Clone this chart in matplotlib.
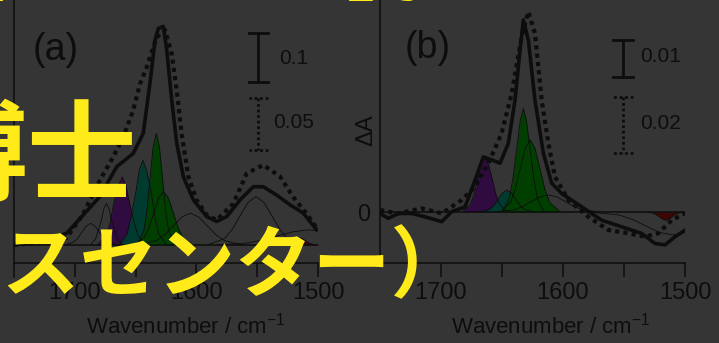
import numpy as np
import matplotlib
matplotlib.use('Agg')
from matplotlib import pyplot as plt

plt.rcParams['font.family'] = ['Liberation Sans', 'DejaVu Sans']
plt.rcParams['mathtext.fontset'] = 'custom'
plt.rcParams['mathtext.rm'] = 'Liberation Sans'
plt.rcParams['mathtext.it'] = 'Liberation Sans:italic'
plt.rcParams['mathtext.default'] = 'regular'

BG = '#353535'
INK = '#0d0d0d'
YELLOW = '#ffea1a'
PURPLE = '#300b40'
TEAL = '#003b30'
GREEN = '#003f00'
RED = '#3d0505'

# ---- panel (a) : measured spectra ----
wn_a = [1750.5, 1728.6, 1706.7, 1679.3, 1665.5, 1651.9, 1643.7, 1638.2, 1634.0, 1631.3,
        1627.2, 1624.4, 1620.3, 1616.2, 1610.7, 1602.5, 1591.5, 1583.3, 1575.1, 1564.1,
        1553.2, 1545.0, 1534.0, 1523.0, 1512.1, 1501.1]
solid_a = [0.0, 0.007, 0.024, 0.099, 0.160, 0.187, 0.228, 0.330, 0.418, 0.442,
           0.446, 0.398, 0.296, 0.208, 0.139, 0.092, 0.058, 0.048, 0.058, 0.092,
           0.119, 0.119, 0.102, 0.082, 0.065, 0.031]
wn_a_dot = [1750.5, 1720.4, 1706.7, 1693.0, 1679.3, 1668.3, 1660.1, 1651.9, 1646.4, 1640.9,
            1632.7, 1625.8, 1620.3, 1616.2, 1612.1, 1606.6, 1599.8, 1591.5, 1583.3, 1569.6,
            1558.6, 1545.0, 1531.3, 1520.3, 1509.3, 1499.8]
dotted_a = [0.000, 0.003, 0.007, 0.030, 0.0625, 0.085, 0.104, 0.130, 0.155, 0.171,
            0.200, 0.207, 0.184, 0.149, 0.107, 0.066, 0.043, 0.029, 0.024, 0.040,
            0.069, 0.077, 0.066, 0.046, 0.030, 0.014]

# ---- panel (a) : fitted bands ----
band_a_1687 = ([1708, 1701, 1697.5, 1694, 1690.5, 1687, 1683.5, 1680, 1676.5, 1673, 1666],
               [0.0005, 0.006, 0.014, 0.027, 0.039, 0.044, 0.039, 0.027, 0.014, 0.006, 0.0005])
band_a_1674 = ([1687, 1683, 1681, 1678, 1676, 1674, 1672, 1670, 1667, 1665, 1661],
               [0.001, 0.012, 0.027, 0.052, 0.075, 0.085, 0.075, 0.052, 0.027, 0.012, 0.001])
band_a_purple = ([1681, 1674, 1671, 1668, 1664, 1661, 1658, 1655, 1651, 1648, 1642],
                 [0.0015, 0.019, 0.044, 0.085, 0.122, 0.139, 0.122, 0.085, 0.044, 0.019, 0.0015])
band_a_teal = ([1663, 1657, 1654, 1650, 1647, 1644, 1641, 1637, 1634, 1631, 1625],
               [0.002, 0.023, 0.055, 0.105, 0.152, 0.173, 0.152, 0.105, 0.055, 0.023, 0.002])
band_a_green_broad = ([1651, 1643, 1639, 1635, 1631, 1627, 1623, 1619, 1615, 1611, 1603],
                      [0.001, 0.015, 0.035, 0.066, 0.096, 0.109, 0.096, 0.066, 0.035, 0.015, 0.001])
band_a_green = ([1648, 1643, 1640.5, 1638, 1635.5, 1633, 1630.5, 1628, 1625.5, 1623, 1618],
                [0.0025, 0.031, 0.074, 0.139, 0.201, 0.228, 0.201, 0.139, 0.074, 0.031, 0.0025])
band_a_1605 = ([1647, 1633, 1626, 1619, 1612, 1605, 1598, 1591, 1584, 1577, 1563],
               [0.0007, 0.009, 0.021, 0.039, 0.057, 0.065, 0.057, 0.039, 0.021, 0.009, 0.0007])
band_a_1551 = ([1590, 1577, 1570.5, 1564, 1557.5, 1551, 1544.5, 1538, 1531.5, 1525, 1512],
               [0.001, 0.013, 0.032, 0.060, 0.087, 0.099, 0.087, 0.060, 0.032, 0.013, 0.001])
band_a_1508 = ([1583, 1558, 1545.5, 1533, 1520.5, 1508, 1500],
               [0.0003, 0.004, 0.010, 0.019, 0.027, 0.031, 0.0295])
band_a_red = ([1535, 1529, 1526, 1523, 1520, 1517, 1514, 1511, 1508, 1505, 1499],
              [0.0002, 0.002, 0.005, 0.010, 0.014, 0.016, 0.014, 0.010, 0.005, 0.002, 0.0002])

# ---- panel (b) : measured spectra ----
wn_b = [1750, 1743.2, 1735, 1724, 1713.1, 1699.4, 1691.2, 1680.3, 1672.1, 1665.3,
        1658.5, 1651.6, 1644.8, 1639.3, 1635.2, 1632.5, 1628.4, 1623, 1616.1, 1609.3,
        1601.1, 1584.7, 1568.3, 1551.9, 1535.5, 1524.6, 1516.4, 1508.2, 1500]
solid_b = [-0.0004, -0.0017, -0.0004, -0.0004, -0.0013, -0.0026, 0.0001, 0.0014, 0.0086, 0.0149,
           0.0141, 0.0132, 0.0186, 0.0303, 0.0438, 0.0519, 0.0465, 0.0303, 0.0159, 0.0078,
           0.0050, 0.0014, -0.0022, -0.0040, -0.0058, -0.0085, -0.0089, -0.0067, -0.0049]
wn_b_dot = [1750, 1735, 1715.8, 1699.4, 1683, 1672.1, 1661.2, 1650.3, 1642, 1633.9,
            1628.4, 1623, 1617.5, 1612, 1606.6, 1595.6, 1579.3, 1562.9, 1546.5, 1532.8,
            1521.9, 1510.9, 1500]
dotted_b = [0.0007, -0.0005, 0.0013, -0.0005, 0.0043, 0.0090, 0.0174, 0.0281, 0.0424, 0.0626,
            0.0715, 0.0638, 0.0400, 0.0245, 0.0126, 0.0043, -0.0017, -0.0064, -0.0076, -0.0088,
            -0.0076, -0.0029, -0.0005]

# ---- panel (b) : fitted bands ----
band_b_purple = ([1682, 1676, 1673, 1670, 1667, 1664, 1661, 1658, 1655, 1652, 1646],
                 [0.0002, 0.002, 0.0047, 0.0088, 0.0128, 0.0145, 0.0128, 0.0088, 0.0047, 0.002, 0.0002])
band_b_teal = ([1667, 1660, 1656.5, 1653, 1649.5, 1646, 1642.5, 1639, 1635.5, 1632, 1625],
               [0.0001, 0.0008, 0.0019, 0.0036, 0.0052, 0.0059, 0.0052, 0.0036, 0.0019, 0.0008, 0.0001])
band_b_green_broad = ([1651, 1643, 1639, 1635, 1631, 1627, 1623, 1619, 1615, 1611, 1603],
                      [0.0002, 0.0026, 0.0063, 0.0118, 0.0172, 0.0195, 0.0172, 0.0118, 0.0063, 0.0026, 0.0002])
band_b_green = ([1649, 1644, 1641, 1638, 1635, 1632.5, 1630, 1627, 1624, 1621, 1616],
                [0.0003, 0.0038, 0.0091, 0.017, 0.0247, 0.028, 0.0247, 0.017, 0.0091, 0.0038, 0.0003])
band_b_1612 = ([1654, 1640, 1633, 1626, 1619, 1612, 1605, 1598, 1591, 1584, 1570],
               [0.00005, 0.0006, 0.0015, 0.0028, 0.0041, 0.0046, 0.0041, 0.0028, 0.0015, 0.0006, 0.00005])
band_b_1510 = ([1576, 1554, 1543, 1532, 1521, 1510, 1500],
               [-0.0001, -0.0008, -0.002, -0.0038, -0.0055, -0.0062, -0.0056])
band_b_red = ([1531, 1526, 1523.5, 1521, 1518.5, 1516, 1513.5, 1511, 1508.5, 1506, 1501],
              [-0.00002, -0.0003, -0.0007, -0.0013, -0.0019, -0.0022, -0.0019, -0.0013, -0.0007, -0.0003, -0.00002])

# scale bars: value shown for solid / dotted trace
bar_a = [0.1, 0.05]
bar_b = [0.01, 0.02]
# dotted traces are drawn on their own scale
dot_scale_a = 2.12
dot_scale_b = 0.757

W, H = 719, 343
fig = plt.figure(figsize=(W / 100, H / 100), dpi=100, facecolor=BG)
ax_a = fig.add_axes([14 / W, 80 / H, 304 / W, 263 / H])
ax_b = fig.add_axes([380 / W, 80 / H, 305 / W, 263 / H])


def style_axes(ax, ylim):
    ax.set_facecolor(BG)
    ax.set_xlim(1750, 1500)
    ax.set_ylim(*ylim)
    for s in ['top', 'right']:
        ax.spines[s].set_visible(False)
    for s in ['left', 'bottom']:
        ax.spines[s].set_color(INK)
        ax.spines[s].set_linewidth(1.1)
    ax.set_xticks([1700, 1600, 1500])
    ax.set_xticks([1650, 1550], minor=True)
    ax.tick_params(axis='x', which='both', direction='out', length=10, width=1.1,
                   color=INK, labelsize=17, labelcolor=INK, pad=4)
    ax.axhline(0, color=INK, lw=1.1, zorder=4)


def draw_band(ax, band, color=None):
    x, y = band
    if color is not None:
        ax.fill_between(x, y, 0, color=color, lw=0, zorder=2)
    ax.plot(x, y, color=INK, lw=0.6, zorder=3)


def draw_bar(ax, x, top, length, half, ls):
    ax.plot([x, x], [top, top - length], color=INK, lw=2, ls=ls, zorder=5)
    ax.plot([x - half, x + half], [top, top], color=INK, lw=2, ls=ls, zorder=5)
    ax.plot([x - half, x + half], [top - length, top - length], color=INK, lw=2, ls=ls, zorder=5)


# panel (a)
style_axes(ax_a, (-0.0367, 0.5))
ax_a.set_yticks([])
ax_a.spines['left'].set_bounds(-0.0653, 0.5)
for b in [band_a_1687, band_a_1674]:
    draw_band(ax_a, b)
draw_band(ax_a, band_a_purple, PURPLE)
draw_band(ax_a, band_a_teal, TEAL)
draw_band(ax_a, band_a_green_broad, GREEN)
draw_band(ax_a, band_a_green, GREEN)
for b in [band_a_1605, band_a_1551, band_a_1508]:
    draw_band(ax_a, b)
draw_band(ax_a, band_a_red, RED)
ax_a.plot(wn_a, solid_a, color=INK, lw=2.6, zorder=6, solid_joinstyle='round')
ax_a.plot(wn_a_dot, np.array(dotted_a) * dot_scale_a, color=INK, lw=3,
          ls=(0, (1, 1)), zorder=6)
draw_bar(ax_a, 1549, 0.4327, bar_a[0], 8, '-')
draw_bar(ax_a, 1549, 0.300, bar_a[1] * dot_scale_a, 8, (0, (1, 1)))
ax_a.text(1519.7, 0.3816, str(bar_a[0]), ha='center', va='center', fontsize=15, color=INK)
ax_a.text(1519.7, 0.249, str(bar_a[1]), ha='center', va='center', fontsize=15, color=INK)
ax_a.text(0.0625, 0.81, '(a)', transform=ax_a.transAxes, ha='left', va='center',
          fontsize=27, color=INK)
ax_a.set_xlabel('Wavenumber / cm$^{-1}$', fontsize=16, color=INK)
ax_a.xaxis.set_label_coords(0.564, -0.19)

# panel (b)
style_axes(ax_b, (-0.01378, 0.0573))
ax_b.set_yticks([0])
ax_b.tick_params(axis='y', length=0, labelsize=17, labelcolor=INK, pad=7)
draw_band(ax_b, band_b_purple, PURPLE)
draw_band(ax_b, band_b_teal, TEAL)
draw_band(ax_b, band_b_green_broad, GREEN)
draw_band(ax_b, band_b_green, GREEN)
draw_band(ax_b, band_b_1612)
draw_band(ax_b, band_b_1510)
draw_band(ax_b, band_b_red, RED)
ax_b.plot(wn_b, solid_b, color=INK, lw=2.6, zorder=6, solid_joinstyle='round')
ax_b.plot(wn_b_dot, np.array(dotted_b) * dot_scale_b, color=INK, lw=3,
          ls=(0, (1, 1)), zorder=6)
draw_bar(ax_b, 1551, 0.0465, bar_b[0], 8, '-')
draw_bar(ax_b, 1551, 0.0311, bar_b[1] * dot_scale_b, 8, (0, (1, 1)))
ax_b.text(1536.9, 0.0419, str(bar_b[0]), ha='left', va='center', fontsize=15, color=INK)
ax_b.text(1536.9, 0.02405, str(bar_b[1]), ha='left', va='center', fontsize=15, color=INK)
ax_b.text(0.082, 0.817, '(b)', transform=ax_b.transAxes, ha='left', va='center',
          fontsize=27, color=INK)
ax_b.text(-0.046, 0.506, 'ΔA', transform=ax_b.transAxes, rotation=90, ha='center',
          va='center', fontsize=17, color=INK)
ax_b.set_xlabel('Wavenumber / cm$^{-1}$', fontsize=16, color=INK)
ax_b.xaxis.set_label_coords(0.561, -0.19)

# yellow slide text laid over the figure
fig.text(445 / W, 1 + 18 / H, 'Spectroscopy', ha='right', va='baseline', fontsize=66,
         family='Liberation Serif', weight='bold', color=YELLOW)
fig.text(137 / W, 1 - 160 / H, '博士', ha='right', va='center', fontsize=79,
         family=['Noto Sans CJK JP'], weight='bold', color=YELLOW)
fig.text(-75 / W, 1 - 268 / H, 'ンスセンター）', ha='left', va='center', fontsize=56,
         family=['Noto Sans CJK JP'], weight='bold', color=YELLOW)

fig.savefig('out.png', dpi=100, facecolor=BG)
